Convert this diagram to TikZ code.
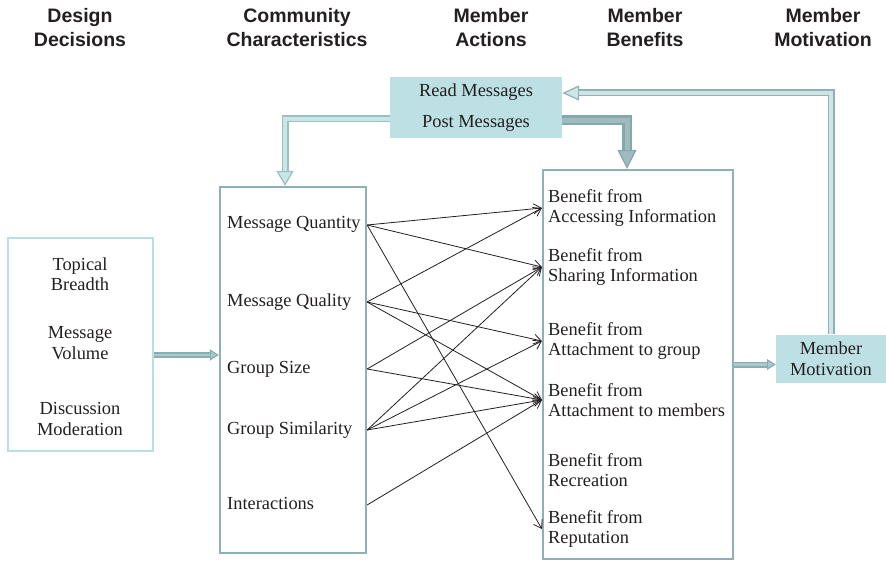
\documentclass[tikz,border=0pt]{standalone}
\usepackage{fontspec}
\setmainfont{Liberation Serif}
\newfontfamily\headfont{Liberation Sans}
\usepackage{xcolor}
\usepackage{tikz}
\usetikzlibrary{arrows.meta,calc}
\definecolor{ink}{HTML}{231F20}
\definecolor{ddEdge}{HTML}{BADFE2}
\definecolor{boxEdge}{HTML}{8FB0B4}
\definecolor{boxFill}{HTML}{BCE0E3}
\definecolor{pipeLo}{HTML}{9BBFC2}
\definecolor{pipeLi}{HTML}{C8E5E7}
\definecolor{pipeRo}{HTML}{86A7AB}
\definecolor{pipeRi}{HTML}{9EBCBF}
\definecolor{pipeBo}{HTML}{8FB0B4}
\definecolor{pipeBi}{HTML}{CDE5E7}
\definecolor{pipeSo}{HTML}{8AADB1}
\definecolor{pipeSi}{HTML}{AACACD}
\newcommand{\bodysize}{\fontsize{18.4}{20.5}\selectfont}
\tikzset{
  colHead/.style={font=\headfont\bfseries\fontsize{19.5}{24}\selectfont, align=center, text=ink},
  frame/.style={draw=boxEdge, line width=2.2pt, inner sep=0pt},
  ddFrame/.style={draw=ddEdge, line width=2.2pt, inner sep=0pt},
  tealBox/.style={fill=boxFill, inner sep=0pt, align=center, font=\bodysize, text=ink},
  item/.style={anchor=west, inner sep=0pt, align=left, font=\bodysize, text=ink},
  ddItem/.style={inner sep=0pt, align=center, font=\bodysize, text=ink},
  link/.style={draw=ink, line width=0.8pt, -{Straight Barb[length=7.5pt,width=10pt]}},
}
% outer colour, inner colour, outer width, inner width, tip length, tip width, path
\newcommand{\pipeArrow}[7]{%
  \draw[draw=#1, line width=#3, -{Triangle[length=#5, width=#6, fill=#2, line width=1.2pt]}] #7;
  \draw[draw=#2, line width=#4, shorten >=#5] #7;
}

\begin{document}
\begin{tikzpicture}[x=1pt, y=-1pt]
  \useasboundingbox (0,0) rectangle (886,561);

  % column heads
  \node[colHead] (hDesign) at (80,28)  {Design\\Decisions};
  \node[colHead] (hComm)   at (297,28) {Community\\Characteristics};
  \node[colHead] (hAct)    at (491,28) {Member\\Actions};
  \node[colHead] (hBen)    at (645,28) {Member\\Benefits};
  \node[colHead] (hMot)    at (823,28) {Member\\Motivation};

  % boxes
  \node[ddFrame, minimum width=145pt, minimum height=213pt] (dd)   at (80.5,344.5) {};
  \node[frame,   minimum width=146pt, minimum height=366pt] (comm) at (293,370) {};
  \node[frame,   minimum width=190pt, minimum height=389pt] (ben)  at (638,364.5) {};
  \node[tealBox, minimum width=172pt, minimum height=61pt]  (msg)  at (476,108)
    {Read Messages\\[10.5pt]Post Messages};
  \node[tealBox, minimum width=110pt, minimum height=48pt]  (mot)  at (831,358.5)
    {Member\\Motivation};

  % design decisions
  \node[ddItem] (topic) at (80,274) {Topical\\Breadth};
  \node[ddItem] (vol)   at (80,343) {Message\\Volume};
  \node[ddItem] (moder) at (80,419) {Discussion\\Moderation};

  % community characteristics
  \node[item, text height=12pt, text depth=4pt] (mqty)  at (227,225) {Message Quantity};
  \node[item, text height=12pt, text depth=4pt] (mqual) at (227,302) {Message Quality};
  \node[item, text height=12pt, text depth=4pt] (gsize) at (227,369) {Group Size};
  \node[item, text height=12pt, text depth=4pt] (gsim)  at (227,430) {Group Similarity};
  \node[item, text height=12pt, text depth=4pt] (inter) at (227,505) {Interactions};

  % member benefits
  \node[item] (bacc)   at (548,208) {Benefit from\\Accessing Information};
  \node[item] (bshare) at (548,267) {Benefit from\\Sharing Information};
  \node[item] (bgroup) at (548,341) {Benefit from\\Attachment to group};
  \node[item] (bmemb)  at (548,400) {Benefit from\\Attachment to members};
  \node[item] (brec)   at (548,470) {Benefit from\\Recreation};
  \node[item] (brep)   at (548,529) {Benefit from\\Reputation};

  % characteristics -> benefits
  \draw[link] (comm.east |- mqty)  -- (ben.west |- bacc);
  \draw[link] (comm.east |- mqty)  -- (ben.west |- bshare);
  \draw[link] (comm.east |- mqty)  -- (ben.west |- brep);
  \draw[link] (comm.east |- mqual) -- (ben.west |- bacc);
  \draw[link] (comm.east |- mqual) -- (ben.west |- bgroup);
  \draw[link] (comm.east |- mqual) -- (ben.west |- bmemb);
  \draw[link] (comm.east |- gsize) -- (ben.west |- bshare);
  \draw[link] (comm.east |- gsize) -- (ben.west |- bmemb);
  \draw[link] (comm.east |- gsim)  -- (ben.west |- bshare);
  \draw[link] (comm.east |- gsim)  -- (ben.west |- bgroup);
  \draw[link] (comm.east |- gsim)  -- (ben.west |- bmemb);
  \draw[link] (comm.east |- inter) -- (ben.west |- bmemb);

  % feedback pipes
  \coordinate (postL)  at ([yshift=-11pt]msg.west);
  \coordinate (postR)  at ([yshift=-12.5pt]msg.east);
  \coordinate (readR)  at ([yshift=15pt]msg.east);
  \coordinate (commIn) at ([xshift=-8pt]comm.north);
  \coordinate (benIn)  at ([xshift=-11pt]ben.north);
  \coordinate (ddOut)  at ([yshift=-10.5pt]dd.east);
  \coordinate (benOut) at (ben.east);

  \pipeArrow{pipeLo}{pipeLi}{7pt}{3.4pt}{15pt}{17pt}{(postL) -| (commIn)}
  \pipeArrow{pipeRo}{pipeRi}{10pt}{5pt}{19pt}{19pt}{(postR) -| (benIn)}
  \pipeArrow{pipeBo}{pipeBi}{7pt}{3.4pt}{17pt}{15pt}{(mot.north) |- (readR)}
  \pipeArrow{pipeSo}{pipeSi}{6pt}{2.6pt}{9pt}{11pt}{(ddOut) -- (ddOut -| comm.west)}
  \pipeArrow{pipeSo}{pipeSi}{6pt}{2.6pt}{9pt}{11pt}{(benOut) -- (benOut -| mot.west)}
\end{tikzpicture}
\end{document}
